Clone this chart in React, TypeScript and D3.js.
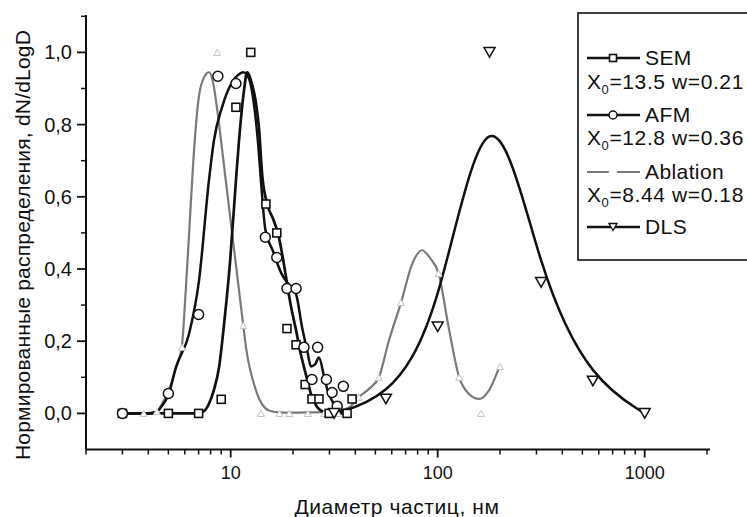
import React from 'react'
import * as d3 from 'd3'

type P = [number, number]

// markers: [diameter nm, normalised value]
const semPts: P[] = [[3,0],[5,0],[7,0],[9,0.039],[10.6,0.848],[12.5,1.0],[14.8,0.58],[16.7,0.5],[18.7,0.235],[20.7,0.19],[22.9,0.08],[24.7,0.04],[26.7,0.04],[29.9,0],[36.5,0],[38.6,0.04]]
const afmPts: P[] = [[3,0],[5,0.055],[7,0.274],[8.67,0.934],[10.6,0.914],[14.7,0.488],[16.7,0.432],[18.7,0.346],[20.7,0.346],[22.6,0.183],[26.3,0.183],[24.7,0.094],[29,0.094],[30.9,0.058],[32.7,0.02],[35,0.075]]
const ablPts: P[] = [[3,0],[3.8,0],[4.4,0.005],[5.82,0.183],[8.6,1.0],[11.5,0.244],[14,0],[17.2,0],[19.2,0],[23.6,0],[28.3,0],[33,0],[41.6,0.045],[52,0.1],[66.5,0.307],[101,0.388],[127,0.1],[162,0],[200,0.13]]
const dlsPts: P[] = [[31.6,0],[56.2,0.04],[100,0.24],[178,1.0],[316,0.363],[562,0.09],[1000,0]]

// smoothed curves
const semLine: P[] = [[3,0],[5,0],[7,0],[7.5,0.008],[7.9,0.03],[8.3,0.065],[8.8,0.13],[9.3,0.25],[9.93,0.42],[10.6,0.645],[10.97,0.756],[11.6,0.895],[12.0,0.945],[12.7,0.91],[13.25,0.86],[13.7,0.79],[14.2,0.66],[15.0,0.58],[16.0,0.54],[16.9,0.5],[18.0,0.42],[18.6,0.37],[19.5,0.3],[20.7,0.23],[21.7,0.17],[22.6,0.128],[23.5,0.09],[24.4,0.055],[26.0,0.02],[27.6,0.006],[30,0],[35,0],[38,0.005]]
const afmLine: P[] = [[3,0],[4.0,0],[4.36,0.003],[4.6,0.017],[5.03,0.055],[5.44,0.128],[6.29,0.22],[7.03,0.368],[7.85,0.645],[8.3,0.756],[9.08,0.848],[10.15,0.917],[11.0,0.94],[11.5,0.945],[12.2,0.93],[13.0,0.85],[13.6,0.74],[14.0,0.645],[14.7,0.51],[16.0,0.45],[17.5,0.39],[19.5,0.35],[20.7,0.33],[22.1,0.24],[23.5,0.17],[24.4,0.13],[25.5,0.135],[26.7,0.155],[28.2,0.105],[29.5,0.06],[30.9,0.035],[32.3,0.017],[34.5,0.008],[37,0.005]]
const ablLine: P[] = [[3,0],[3.8,0],[4.4,0.005],[4.67,0.028],[5.03,0.065],[5.4,0.12],[5.82,0.19],[6.05,0.33],[6.3,0.5],[6.6,0.7],[7.03,0.88],[7.5,0.935],[7.85,0.945],[8.2,0.92],[8.58,0.848],[8.98,0.756],[9.47,0.645],[10.56,0.42],[11.5,0.244],[11.86,0.183],[13.25,0.064],[15.3,0.008],[17,0.003],[20,0.002],[25,0.003],[30,0.004],[33,0.008],[37,0.015],[41.6,0.045],[47,0.07],[52,0.1],[58,0.2],[66.5,0.307],[75.4,0.415],[84,0.452],[92,0.43],[101,0.388],[113,0.238],[127,0.1],[141,0.055],[158,0.04],[177,0.064],[198,0.127]]

const xMajor = [10, 100, 1000]
const yMajor = [0, 0.2, 0.4, 0.6, 0.8, 1.0]
const yMinor = [0.1, 0.3, 0.5, 0.7, 0.9, 1.1]
const legendRows = ['SEM', 'X0=13.5 w=0.21', 'AFM', 'X0=12.8 w=0.36', 'Ablation', 'X0=8.44 w=0.18', 'DLS']

const W = 747, H = 517
const FONT = '"Liberation Sans", Arial, sans-serif'
const INK = '#111'

export default function App() {
  const x = d3.scaleLog().domain([2, 2000]).range([86, 707])
  const y = d3.scaleLinear().domain([-0.1, 1.1]).range([449.5, 16.3])
  const x0 = x.range()[0], yb = y.range()[0]

  const xMinor: number[] = []
  for (const dec of [1, 10, 100, 1000])
    for (let k = 2; k <= 9; k++) { const v = k * dec; if (v >= 2 && v <= 2000) xMinor.push(v) }

  const line = d3.line<P>().x(d => x(d[0])).y(d => y(d[1])).curve(d3.curveMonotoneX)
  const basis = d3.line<P>().x(d => x(d[0])).y(d => y(d[1])).curve(d3.curveBasis)
  const fmt = (v: number) => d3.format('.1f')(v).replace('.', ',')

  const sq = (cx: number, cy: number, key: any, s = 8) =>
    <rect key={key} x={cx - s / 2} y={cy - s / 2} width={s} height={s} fill="#fff" stroke={INK} strokeWidth={1.6} />
  const circ = (cx: number, cy: number, key: any, r = 5) =>
    <circle key={key} cx={cx} cy={cy} r={r} fill="#fff" stroke={INK} strokeWidth={1.5} />
  const tri = (cx: number, cy: number, key: any, s: number, down: boolean, color: string, sw: number) => {
    const h = s * 0.87
    const p = down
      ? `M${cx - s / 2},${cy - h / 2}L${cx + s / 2},${cy - h / 2}L${cx},${cy + h / 2}Z`
      : `M${cx - s / 2},${cy + h / 2}L${cx + s / 2},${cy + h / 2}L${cx},${cy - h / 2}Z`
    return <path key={key} d={p} fill="#fff" stroke={color} strokeWidth={sw} />
  }

  const ly = [58, 82, 115, 138, 172, 195, 227]

  return (
    <svg width={W} height={H} style={{ position: 'absolute', left: 0, top: 0 }} fontFamily={FONT}>
      <rect width={W} height={H} fill="#fff" />

      {/* axes */}
      <line x1={x0} y1={15} x2={x0} y2={yb} stroke={INK} strokeWidth={2} />
      <line x1={x0} y1={yb} x2={710} y2={yb} stroke={INK} strokeWidth={2} />
      {xMajor.map(v => <line key={'xM' + v} x1={x(v)} x2={x(v)} y1={yb} y2={yb + 8} stroke={INK} strokeWidth={1.8} />)}
      {xMinor.map(v => <line key={'xm' + v} x1={x(v)} x2={x(v)} y1={yb} y2={yb + 5} stroke={INK} strokeWidth={1.5} />)}
      {xMajor.map(v => <text key={'xl' + v} x={x(v)} y={479} textAnchor="middle" fontSize={18} fill={INK}>{v}</text>)}
      {yMajor.map(v => <line key={'yM' + v} x1={x0 - 9} x2={x0} y1={y(v)} y2={y(v)} stroke={INK} strokeWidth={1.8} />)}
      {yMinor.map(v => <line key={'ym' + v} x1={x0 - 5} x2={x0} y1={y(v)} y2={y(v)} stroke={INK} strokeWidth={1.5} />)}
      {yMajor.map(v => <text key={'yl' + v} x={72} y={y(v) + 7} textAnchor="end" fontSize={20} fill={INK}>{fmt(v)}</text>)}

      <text x={397} y={514} textAnchor="middle" fontSize={21} letterSpacing={0.6} fill={INK}>Диаметр частиц, нм</text>
      <text transform="translate(30,245) rotate(-90)" textAnchor="middle" fontSize={21} letterSpacing={0.2} fill={INK}>Нормированные распределения, dN/dLogD</text>

      {/* curves */}
      <path d={line(ablLine) || ''} fill="none" stroke="#7a7a7a" strokeWidth={2.2} />
      <path d={line(semLine) || ''} fill="none" stroke={INK} strokeWidth={2.7} />
      <path d={line(afmLine) || ''} fill="none" stroke={INK} strokeWidth={2.5} />
      <path d={basis(dlsPts) || ''} fill="none" stroke={INK} strokeWidth={2.5} />

      {/* markers */}
      {ablPts.map((d, i) => tri(x(d[0]), y(d[1]), 'a' + i, 7, false, '#c4c4c4', 1))}
      {semPts.map((d, i) => sq(x(d[0]), y(d[1]), 's' + i))}
      {afmPts.map((d, i) => circ(x(d[0]), y(d[1]), 'c' + i))}
      {dlsPts.map((d, i) => tri(x(d[0]), y(d[1]), 'd' + i, 11, true, INK, 1.5))}

      {/* legend */}
      <rect x={578} y={13} width={200} height={247} fill="#fff" stroke={INK} strokeWidth={1.6} />
      <line x1={587} x2={640} y1={ly[0]} y2={ly[0]} stroke={INK} strokeWidth={2.6} />
      {sq(613, ly[0], 'ls', 7)}
      <line x1={587} x2={640} y1={ly[2]} y2={ly[2]} stroke={INK} strokeWidth={2.4} />
      {circ(613, ly[2], 'lc', 4)}
      <line x1={587} x2={640} y1={ly[4]} y2={ly[4]} stroke="#7a7a7a" strokeWidth={2.2} />
      {tri(613, ly[4], 'la', 7, false, '#fff', 4)}
      <line x1={587} x2={640} y1={ly[6]} y2={ly[6]} stroke={INK} strokeWidth={2.4} />
      {tri(613, ly[6], 'ld', 8, true, INK, 1.3)}
      {legendRows.map((t, i) => {
        if (i % 2 === 1) {
          const rest = t.slice(2)
          return (
            <text key={'lg' + i} x={587} y={ly[i] + 7} fontSize={21} letterSpacing={0.6} fill={INK}>
              X<tspan fontSize={13} dy={5}>0</tspan><tspan dy={-5}>{rest}</tspan>
            </text>
          )
        }
        return <text key={'lg' + i} x={645} y={ly[i] + 7} fontSize={21} letterSpacing={0.4} fill={INK}>{t}</text>
      })}
    </svg>
  )
}
